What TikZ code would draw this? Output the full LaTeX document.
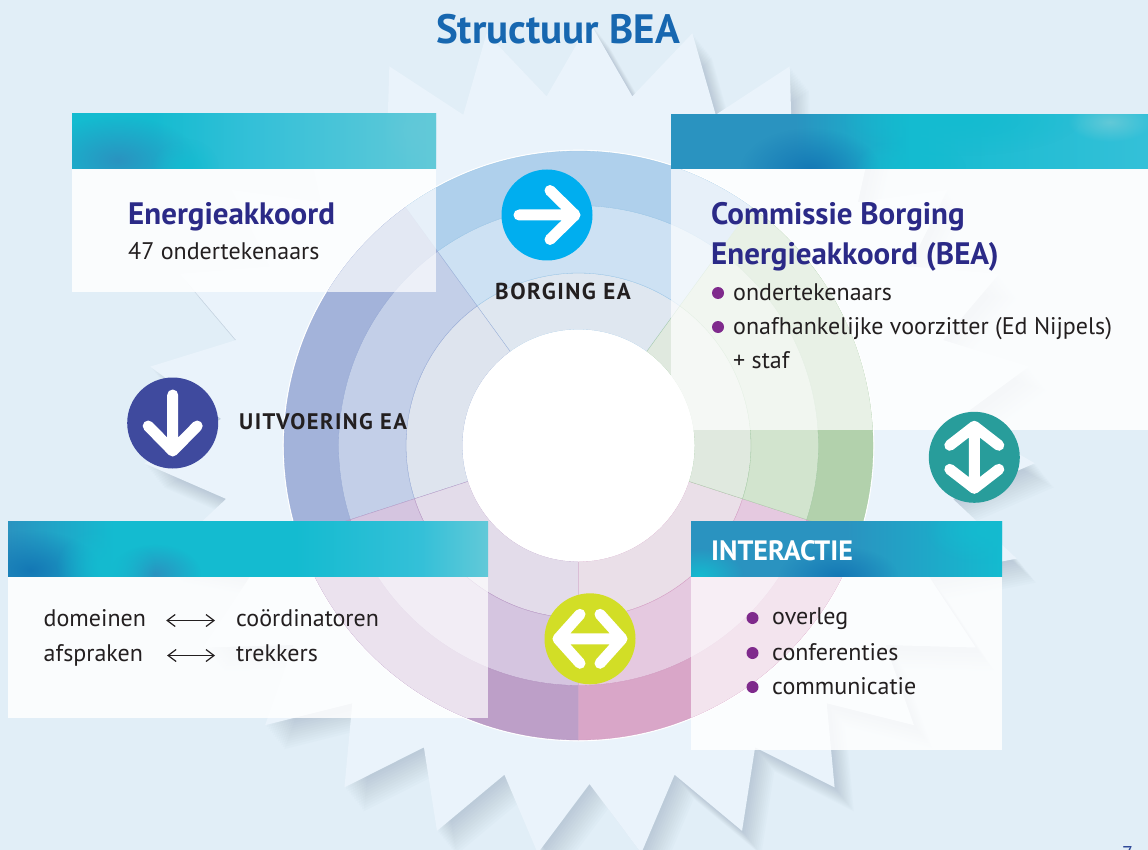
\documentclass[tikz,border=0pt]{standalone}
\usepackage{fontspec}
\setmainfont{PT Sans}
\usetikzlibrary{arrows.meta,fadings}

\definecolor{pagebg}{HTML}{E1EEF7}
\definecolor{starfill}{HTML}{EAF3FB}
\definecolor{starshade}{HTML}{7F90A6}
\definecolor{titleblue}{HTML}{1767B0}
\definecolor{headnavy}{HTML}{2B2A87}
\definecolor{bodyink}{HTML}{231F20}
\definecolor{bulletpurple}{HTML}{7F2A8C}
\definecolor{badgesky}{HTML}{00AEEF}
\definecolor{badgeindigo}{HTML}{3F4A9E}
\definecolor{badgeteal}{HTML}{289D9B}
\definecolor{badgelime}{HTML}{D2DE26}
\definecolor{pageblue}{HTML}{2F4A9A}

\definecolor{borO}{HTML}{AFD0EC}\definecolor{borM}{HTML}{CDE1F3}\definecolor{borI}{HTML}{DFE7F0}\definecolor{borL}{HTML}{9CC6E6}
\definecolor{uitO}{HTML}{A3B3DA}\definecolor{uitM}{HTML}{C3CFE8}\definecolor{uitI}{HTML}{DEE4EE}\definecolor{uitL}{HTML}{98ABD6}
\definecolor{afsO}{HTML}{BD9FC8}\definecolor{afsM}{HTML}{D5C5E0}\definecolor{afsI}{HTML}{E3DCEA}\definecolor{afsL}{HTML}{B595C2}
\definecolor{intO}{HTML}{D9A6C8}\definecolor{intM}{HTML}{E5C9E0}\definecolor{intI}{HTML}{EADFE8}\definecolor{intL}{HTML}{D39CC2}
\definecolor{comO}{HTML}{B2D1AC}\definecolor{comM}{HTML}{D2E4CE}\definecolor{comI}{HTML}{E0E9DF}\definecolor{comL}{HTML}{A6CBA6}

\definecolor{hdDeep}{HTML}{1478B5}
\definecolor{hdBlue}{HTML}{2A93C0}
\definecolor{hdCyan}{HTML}{14BBD0}
\definecolor{hdSky}{HTML}{34C0D8}
\definecolor{hdPale}{HTML}{62C9D8}

\pgfdeclarehorizontalshading{headEnergie}{100bp}{color(0bp)=(hdCyan); color(25bp)=(hdCyan); color(36bp)=(hdCyan); color(50bp)=(hdSky); color(75bp)=(hdPale); color(100bp)=(hdPale)}
\pgfdeclarehorizontalshading{headCommissie}{100bp}{color(0bp)=(hdBlue); color(25bp)=(hdBlue); color(38bp)=(hdBlue); color(50bp)=(hdCyan); color(75bp)=(hdSky); color(100bp)=(hdSky)}
\pgfdeclarehorizontalshading{headDomein}{100bp}{color(0bp)=(hdBlue); color(25bp)=(hdBlue); color(36bp)=(hdCyan); color(55bp)=(hdCyan); color(68bp)=(hdSky); color(75bp)=(hdPale); color(100bp)=(hdPale)}
\pgfdeclarehorizontalshading{headInter}{100bp}{color(0bp)=(hdBlue); color(25bp)=(hdBlue); color(50bp)=(hdBlue); color(75bp)=(hdCyan); color(100bp)=(hdCyan)}

\tikzfading[name=softblob,inner color=transparent!0,outer color=transparent!100]

\tikzset{
  panel/.style={fill=white,fill opacity=0.85},
  panelring/.style={fill=white,fill opacity=0.70},
  blob/.style={path fading=softblob},
  plain/.style={inner sep=0pt,anchor=base west,text=bodyink,font=\fontsize{24}{28}\selectfont,text height=17pt,text depth=6pt},
  heading/.style={plain,text=headnavy,font=\fontsize{31}{36}\selectfont\bfseries},
  tag/.style={plain,font=\fontsize{22.5}{28}\selectfont\bfseries\addfontfeatures{LetterSpace=6.5}},
  dot/.style={circle,fill=bulletpurple,inner sep=0pt,minimum size=12pt},
  badge/.style={circle,inner sep=0pt,minimum size=91pt},
  glyph/.style={draw=white,line width=11pt,line cap=round,line join=round},
  pair/.style={draw=bodyink,line width=1.2pt,{Straight Barb[length=8pt,width=12pt]}-{Straight Barb[length=8pt,width=12pt]}}
}

\begin{document}
\begin{tikzpicture}[x=1pt,y=-1pt]
  \useasboundingbox (0,0) rectangle (1148,850);
  \clip (0,0) rectangle (1148,850);
  \fill[pagebg] (0,0) rectangle (1148,850);

  % shadow of the star
  \foreach \s in {2,4,...,24} {
    \fill[starshade,opacity=0.03,shift={(\s*0.8,\s)}] (589.5,22)
      \foreach \i in {0,...,26} {
        -- ({589.5+446*sin(13.3333*\i)},{439-417*cos(13.3333*\i)})
        -- ({589.5+369*sin(13.3333*\i+6.6667)},{439-345*cos(13.3333*\i+6.6667)})
      } -- cycle;
  }
  % star
  \fill[starfill] (589.5,22)
    \foreach \i in {0,...,26} {
      -- ({589.5+446*sin(13.3333*\i)},{439-417*cos(13.3333*\i)})
      -- ({589.5+369*sin(13.3333*\i+6.6667)},{439-345*cos(13.3333*\i+6.6667)})
    } -- cycle;

  % panels, over the star
  \foreach \xa/\ya/\xb/\yb in {72/169/436/292,671/169/1148/430,8/576/488/718,691/576/1002/750}
    \fill[panel] (\xa,\ya) rectangle (\xb,\yb);

  % rings
  \begin{scope}[shift={(578.5,445.5)},x=1pt,y=1pt]
    \fill[white] (0,0) circle[radius=295.8];
    \foreach \a/\nm in {54/bor,126/uit,198/afs,270/int,342/com} {
      \foreach \ri/\ro/\lev in {116/172.5/I,172.5/240/M,240/294.5/O} {
        \filldraw[draw=\nm L,line width=0.3pt,fill=\nm\lev] (\a:\ro)
          arc[start angle=\a,delta angle=72,radius=\ro]
          -- ({\a+72}:\ri)
          arc[start angle=\a+72,delta angle=-72,radius=\ri] -- cycle;
      }
    }
    \fill[white] (0,0) circle[radius=116];
  \end{scope}

  % panels, over the rings
  \begin{scope}
    \clip (578.5,445.5) circle[radius=294.5];
    \foreach \xa/\ya/\xb/\yb in {72/169/436/292,671/169/1148/430,8/576/488/718,691/576/1002/750}
      \fill[panelring] (\xa,\ya) rectangle (\xb,\yb);
  \end{scope}

  % headers
  \begin{scope}
    \clip (72,114) rectangle (436,169);
    \shade[shading=headEnergie] (72,114) rectangle (436,169);
    \fill[hdBlue,blob] (118,160) ellipse[x radius=80,y radius=44];
    \fill[hdCyan,blob] (185,168) ellipse[x radius=34,y radius=30];
    \fill[hdPale,blob] (425,130) ellipse[x radius=44,y radius=40];
  \end{scope}
  \begin{scope}
    \clip (671,115) rectangle (1148,169);
    \shade[shading=headCommissie] (671,115) rectangle (1148,169);
    \fill[hdDeep,blob] (810,170) ellipse[x radius=70,y radius=42];
    \fill[hdCyan,blob] (910,170) ellipse[x radius=56,y radius=34];
    \fill[hdCyan,blob] (960,120) ellipse[x radius=120,y radius=36];
    \fill[hdPale,blob] (1110,122) ellipse[x radius=42,y radius=20];
  \end{scope}
  \begin{scope}
    \clip (8,521) rectangle (488,576);
    \shade[shading=headDomein] (8,521) rectangle (488,576);
    \fill[hdDeep,blob] (30,570) ellipse[x radius=70,y radius=40];
    \fill[hdBlue,blob] (155,574) ellipse[x radius=46,y radius=30];
    \fill[hdCyan,blob] (106,566) ellipse[x radius=50,y radius=38];
  \end{scope}
  \begin{scope}
    \clip (691,521) rectangle (1002,576);
    \shade[shading=headInter] (691,521) rectangle (1002,576);
    \fill[hdCyan,blob] (700,576) ellipse[x radius=44,y radius=28];
    \fill[hdDeep,blob] (838,576) ellipse[x radius=60,y radius=30];
    \fill[hdCyan,blob] (985,530) ellipse[x radius=60,y radius=34];
  \end{scope}

  \node[plain,text=titleblue,font=\fontsize{41}{46}\selectfont\bfseries] (title) at (436,44) {Structuur BEA};

  \node[heading] (energie) at (128,225) {Energieakkoord};
  \node[plain] (onder) at (128,260) {47 ondertekenaars};

  \node[heading] (commissie) at (711,225) {Commissie Borging};
  \node[heading] (borging) at (711,265) {Energieakkoord (BEA)};
  \node[dot] (dotA) at (718,293) {};
  \node[plain] (leden) at (733,300) {ondertekenaars};
  \node[dot] (dotB) at (718,327) {};
  \node[plain] (voorz) at (733,334) {onafhankelijke voorzitter (Ed Nijpels)};
  \node[plain] (staf) at (733,368) {+ staf};

  \node[plain] (dom) at (43.5,626) {domeinen};
  \node[plain] (coord) at (236,626) {coördinatoren};
  \node[plain] (afs) at (43.5,661) {afspraken};
  \node[plain] (trek) at (236,661) {trekkers};
  \draw[pair,shorten <=20pt,shorten >=21pt] (dom.east) -- (coord.west);
  \draw[pair,shorten <=24pt,shorten >=21pt] (afs.east) -- (trek.west);

  \node[plain,text=white,font=\fontsize{28}{32}\selectfont\bfseries] (inter) at (711,560) {INTERACTIE};
  \node[dot] (dotC) at (752.5,618) {};
  \node[plain] (over) at (772,624) {overleg};
  \node[dot] (dotD) at (752.5,653) {};
  \node[plain] (conf) at (772,660) {conferenties};
  \node[dot] (dotE) at (752.5,687) {};
  \node[plain] (comm) at (772,694) {communicatie};

  \node[tag,font=\fontsize{23}{28}\selectfont\bfseries\addfontfeatures{LetterSpace=6.5}] (borgea) at (495,299.5) {BORGING EA};
  \node[tag] (uitea) at (239,429) {UITVOERING EA};

  % arrow badges
  \node[badge,fill=badgesky] (borg) at (547,215) {};
  \draw[glyph,shift={(borg.center)}] (-28,0) -- (28,0) (3,-24.5) -- (28,0) -- (3,24.5);

  \node[badge,fill=badgeindigo] (uit) at (172.7,423) {};
  \draw[glyph,shift={(uit.center)}] (0,-28) -- (0,28) (-24.5,3) -- (0,28) -- (24.5,3);

  \node[badge,fill=badgeteal] (wissel) at (974.3,457.3) {};
  \draw[glyph,shift={(wissel.center)}] (0,-31) -- (0,31) (-24.5,-12) -- (0,-31) -- (24.5,-12) (-24.5,12) -- (0,31) -- (24.5,12);

  \node[badge,fill=badgelime] (inzet) at (590,638.8) {};
  \draw[glyph,shift={(inzet.center)}] (-32,0) -- (32,0) (-10,-24.5) -- (-32,0) -- (-10,24.5) (10,-24.5) -- (32,0) -- (10,24.5);

  \node[plain,text=pageblue,font=\fontsize{20}{24}\selectfont] (page) at (1122,860) {7};
\end{tikzpicture}
\end{document}
